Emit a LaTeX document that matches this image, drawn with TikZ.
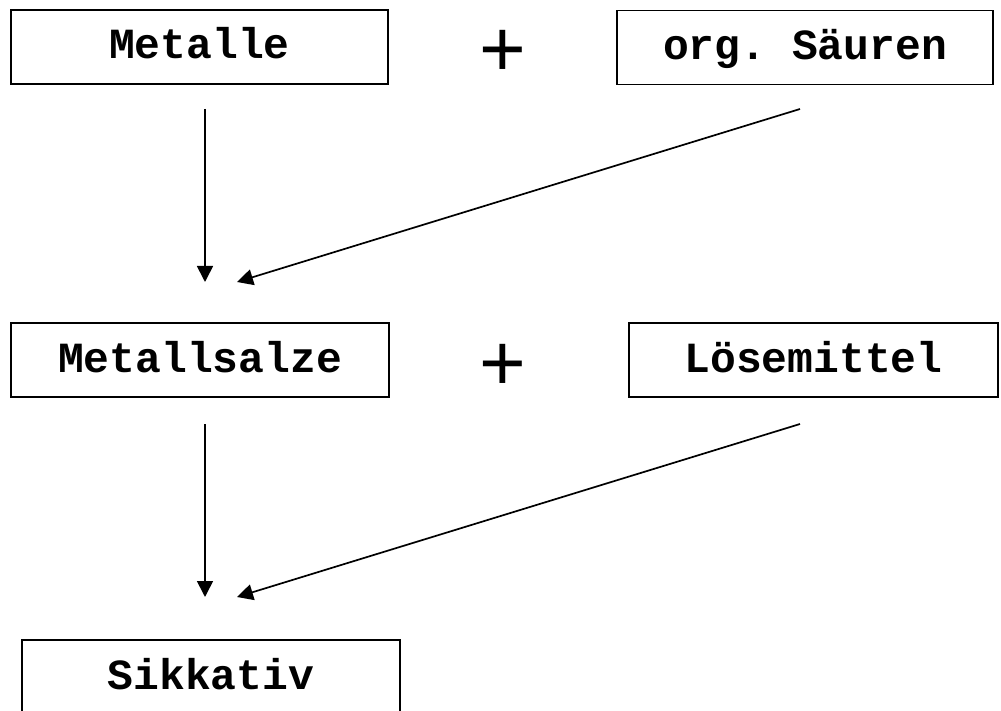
\documentclass[tikz,border=0pt]{standalone}
\usepackage{fontspec}
\setmonofont{Liberation Mono}
\newfontfamily\plusfont{Liberation Sans}
\usetikzlibrary{arrows.meta}
\begin{document}
\begin{tikzpicture}[x=0.5pt,y=-0.5pt,
  box/.style={draw, line width=0.9pt, inner sep=0pt, minimum height=37pt,
    text height=16pt, text depth=4pt,
    font=\ttfamily\bfseries\fontsize{21.5}{26}\selectfont},
  plussign/.style={inner sep=0pt, font=\plusfont\fontsize{40}{44}\selectfont},
  flow/.style={-{Triangle[length=8pt,width=8pt]}, line width=0.85pt}]
\clip (0,0) rectangle (1001,711);
\node[box, minimum width=188.5pt] (met) at (199.5,47) {Metalle};
\node[box, minimum width=188pt] (org) at (805,47.5) {org. Säuren};
\node[box, minimum width=189pt] (salz) at (200,360) {Metallsalze};
\node[box, minimum width=184.5pt] (loes) at (813.5,360) {Lösemittel};
\node[box, minimum width=189pt] (sik) at (211,677) {Sikkativ};
\node[plussign] (p1) at (503,53) {+};
\node[plussign] (p2) at (503,367) {+};
\coordinate (a1s) at (205,109);
\coordinate (a1e) at (205,282);
\coordinate (b1s) at (800,109);
\coordinate (b1e) at (237,282);
\coordinate (a2s) at (205,424);
\coordinate (a2e) at (205,597);
\coordinate (b2s) at (800,424);
\coordinate (b2e) at (237,597);
\draw[flow] (a1s) -- (a1e);
\draw[flow] (b1s) -- (b1e);
\draw[flow] (a2s) -- (a2e);
\draw[flow] (b2s) -- (b2e);
\end{tikzpicture}
\end{document}
